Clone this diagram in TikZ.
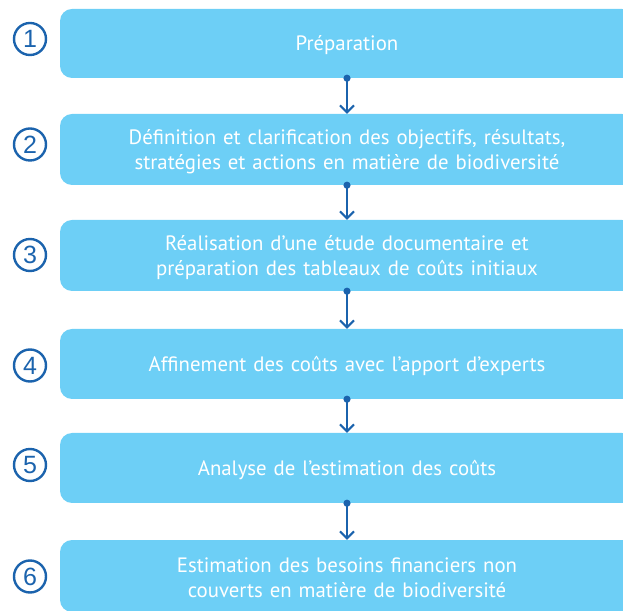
\documentclass[tikz,border=0pt]{standalone}
\usepackage{fontspec}
\setmainfont{PT Sans}
\newfontfamily\numfont{Liberation Sans}
\usetikzlibrary{arrows.meta,backgrounds}
\definecolor{boxfill}{HTML}{6DCFF6}
\definecolor{darkblue}{HTML}{1B63AD}
\tikzset{
  stepbox/.style={fill=boxfill, rounded corners=12pt, minimum width=574pt, inner sep=0pt},
  steptext/.style={text width=550pt, align=center, text=white, inner sep=0pt, font=\fontsize{20.8}{25}\selectfont},
  numcirc/.style={circle, draw=darkblue, line width=2.4pt, minimum size=32pt, inner sep=0pt, text=darkblue, font=\numfont\fontsize{25}{25}\selectfont},
  conn/.style={darkblue, line width=2pt, {Circle[length=7pt]}-{Straight Barb[length=7pt,width=14pt,line width=2pt]}, shorten <=-3.5pt}
}
\begin{document}
\begin{tikzpicture}[x=1pt,y=1pt]
\useasboundingbox (0,0) rectangle (623,610);
\clip (0,0) rectangle (623,610);
\node[stepbox, minimum height=69pt] (b1) at (347,566.5) {};
\node[stepbox, minimum height=71pt] (b2) at (347,460.5) {};
\node[stepbox, minimum height=71pt] (b3) at (347,354.5) {};
\node[stepbox, minimum height=70pt] (b4) at (347,246) {};
\node[stepbox, minimum height=70pt] (b5) at (347,142) {};
\node[stepbox, minimum height=72pt] (b6) at (347,34) {};
\begin{scope}[on background layer]
\foreach \b in {b1,b2,b3,b4,b5,b6}{
  \fill[boxfill] (\b.north) rectangle (\b.south east);
}
\end{scope}
\node[steptext] (t1) at ([yshift=-2pt]b1.center) {Préparation};
\node[steptext] (t2) at ([yshift=-2pt]b2.center) {Définition et clarification des objectifs, résultats,\\stratégies et actions en matière de biodiversité};
\node[steptext] (t3) at ([yshift=-2pt]b3.center) {Réalisation d’une étude documentaire et\\préparation des tableaux de coûts initiaux};
\node[steptext] (t4) at ([yshift=-2pt]b4.center) {Affinement des coûts avec l’apport d’experts};
\node[steptext] (t5) at ([yshift=-2pt]b5.center) {Analyse de l’estimation des coûts};
\node[steptext] (t6) at ([yshift=-2pt]b6.center) {Estimation des besoins financiers non\\couverts en matière de biodiversité};
\node[numcirc] (c1) at (30,571) {1};
\node[numcirc] (c2) at (30,465.5) {2};
\node[numcirc] (c3) at (30,355) {3};
\node[numcirc] (c4) at (30,244.5) {4};
\node[numcirc] (c5) at (30,145) {5};
\node[numcirc] (c6) at (30,33.5) {6};
\draw[conn] (b1.south) -- (b2.north);
\draw[conn] (b2.south) -- (b3.north);
\draw[conn] (b3.south) -- (b4.north);
\draw[conn] (b4.south) -- (b5.north);
\draw[conn] (b5.south) -- (b6.north);
\end{tikzpicture}
\end{document}
